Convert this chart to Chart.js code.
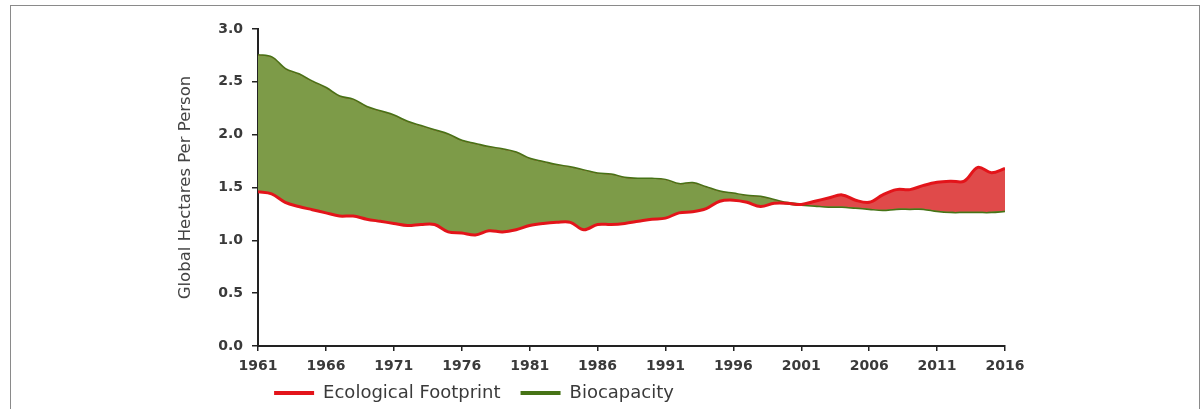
<!DOCTYPE html>
<html>
<head>
<meta charset="utf-8">
<script src="https://cdn.jsdelivr.net/npm/chart.js@4.4.1/dist/chart.umd.min.js"></script>
<style>
  html, body { margin: 0; padding: 0; background: #fff; }
  #wrap { position: relative; width: 1202px; height: 409px; overflow: hidden; }
  #frame { position: absolute; left: 10px; top: 5px; width: 1190px; height: 430px; border: 1.5px solid #8a8a8a; box-sizing: border-box; }
  #chart { position: absolute; left: 0; top: 0; }
</style>
</head>
<body>
<div id="wrap">
  <div id="frame"></div>
  <canvas id="chart" width="1202" height="409"></canvas>
</div>
<script>
// ---- data ----
const years = [1961,1962,1963,1964,1965,1966,1967,1968,1969,1970,
               1971,1972,1973,1974,1975,1976,1977,1978,1979,1980,
               1981,1982,1983,1984,1985,1986,1987,1988,1989,1990,
               1991,1992,1993,1994,1995,1996,1997,1998,1999,2000,
               2001,2002,2003,2004,2005,2006,2007,2008,2009,2010,
               2011,2012,2013,2014,2015,2016];

const footprint = [1.46,1.44,1.36,1.32,1.29,1.26,1.23,1.23,1.20,1.18,
                   1.16,1.14,1.15,1.15,1.08,1.07,1.05,1.09,1.08,1.10,
                   1.14,1.16,1.17,1.17,1.10,1.15,1.15,1.16,1.18,1.20,
                   1.21,1.26,1.27,1.30,1.37,1.38,1.36,1.32,1.35,1.35,
                   1.34,1.37,1.40,1.43,1.38,1.36,1.43,1.48,1.48,1.52,
                   1.55,1.56,1.56,1.69,1.64,1.68];

const biocapacity = [2.75,2.73,2.62,2.57,2.50,2.44,2.36,2.33,2.26,2.22,
                     2.18,2.12,2.08,2.04,2.00,1.94,1.91,1.88,1.86,1.83,
                     1.77,1.74,1.71,1.69,1.66,1.63,1.62,1.59,1.58,1.58,
                     1.57,1.53,1.54,1.50,1.46,1.44,1.42,1.41,1.38,1.35,
                     1.34,1.33,1.32,1.32,1.31,1.30,1.29,1.30,1.30,1.30,
                     1.28,1.27,1.27,1.27,1.27,1.28];

const xTicks = [1961,1966,1971,1976,1981,1986,1991,1996,2001,2006,2011,2016];
const yTicks = [0,0.5,1,1.5,2,2.5,3];

const RED = '#e3141a', RED_FILL = '#e04a4a';
const GREEN = '#467316', GREEN_FILL = '#7d9b48';
const FONT = "'DejaVu Sans', sans-serif";
const TXT = '#3a3a3a';

const pts = arr => years.map((yr, i) => ({ x: yr, y: arr[i] }));

// move the legend so it sits where the original had it
const legendShift = {
  id: 'legendShift',
  afterLayout(chart) {
    const lg = chart.legend;
    if (!lg) return;
    const cx = 474;
    lg.left = cx - 300;
    lg.right = cx + 300;
    lg.top -= 12;
    lg.bottom -= 12;
  }
};

new Chart(document.getElementById('chart'), {
  type: 'line',
  data: {
    datasets: [
      {
        label: 'Ecological Footprint',
        data: pts(footprint),
        borderColor: RED,
        borderWidth: 3,
        pointRadius: 0,
        tension: 0.35,
        fill: { target: 1, above: RED_FILL, below: GREEN_FILL }
      },
      {
        label: 'Biocapacity',
        data: pts(biocapacity),
        borderColor: GREEN,
        borderWidth: 3,
        pointRadius: 0,
        tension: 0.35,
        fill: false
      }
    ]
  },
  options: {
    responsive: false,
    animation: false,
    layout: { padding: { left: 176, right: 197, top: 29, bottom: -15 } },
    plugins: {
      tooltip: { enabled: false },
      legend: {
        position: 'bottom',
        labels: {
          color: TXT,
          font: { family: FONT, size: 18 },
          boxWidth: 40,
          boxHeight: 4,
          padding: 20,
          generateLabels(chart) {
            return chart.data.datasets.map((ds, i) => ({
              text: ds.label,
              fillStyle: ds.borderColor,
              strokeStyle: ds.borderColor,
              lineWidth: 0,
              fontColor: TXT,
              datasetIndex: i
            }));
          }
        }
      }
    },
    scales: {
      x: {
        type: 'linear',
        min: 1961,
        max: 2016,
        afterBuildTicks: s => { s.ticks = xTicks.map(v => ({ value: v })); },
        afterFit: s => { s.height = 30; },
        grid: { display: true, drawOnChartArea: false, drawTicks: true, tickLength: 5, color: '#222', lineWidth: 1.5 },
        border: { display: true, color: '#222', width: 2 },
        ticks: {
          color: TXT,
          padding: 7,
          maxRotation: 0,
          font: { family: FONT, size: 14, weight: 'bold' },
          callback: v => String(v)
        }
      },
      y: {
        min: 0,
        max: 3,
        afterBuildTicks: s => { s.ticks = yTicks.map(v => ({ value: v })); },
        afterFit: s => { s.width = 82; },
        grid: { display: true, drawOnChartArea: false, drawTicks: true, tickLength: 6, color: '#222', lineWidth: 1.5 },
        border: { display: true, color: '#222', width: 2 },
        ticks: {
          color: TXT,
          padding: 9,
          font: { family: FONT, size: 14, weight: 'bold' },
          callback: v => v.toFixed(1)
        },
        title: {
          display: true,
          text: 'Global Hectares Per Person',
          color: '#444',
          font: { family: FONT, size: 16.5 },
          padding: { top: 0, bottom: 0 }
        }
      }
    }
  },
  plugins: [legendShift]
});
</script>
</body>
</html>
